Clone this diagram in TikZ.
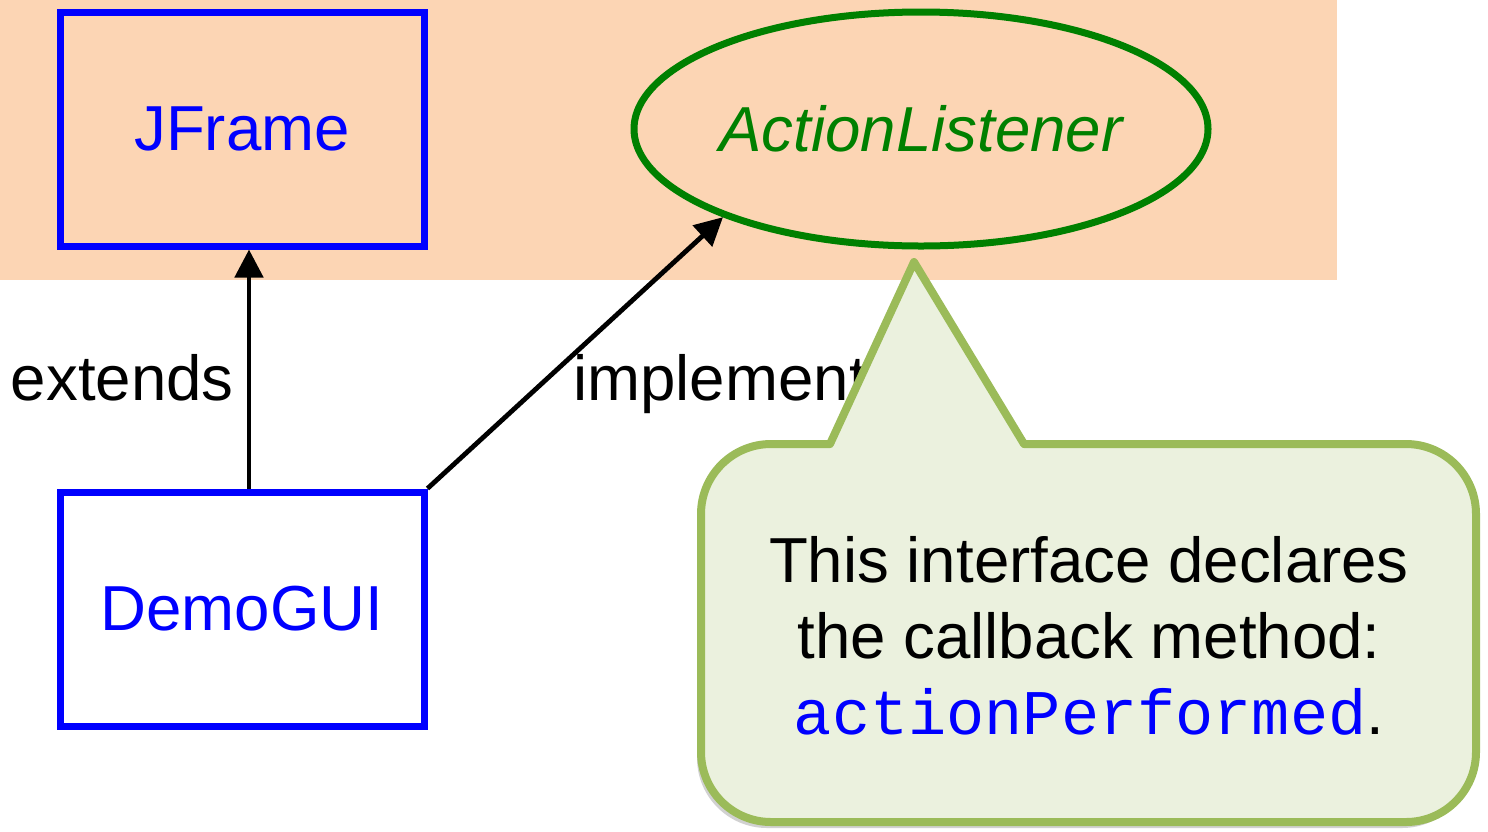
\documentclass[tikz,border=0pt]{standalone}
\usepackage{fontspec}
\setmainfont{Liberation Sans}
\newfontfamily\codefont{Liberation Mono}
\usetikzlibrary{arrows.meta,shapes.geometric}
\definecolor{peach}{RGB}{252,213,180}
\definecolor{ifgreen}{RGB}{0,128,0}
\definecolor{notefill}{RGB}{235,241,222}
\definecolor{notedraw}{RGB}{155,187,89}
\begin{document}
\begin{tikzpicture}[x=0.5pt,y=-0.5pt,
  bigfont/.style={font=\fontsize{31.8}{38}\selectfont},
  classbox/.style={draw=blue, line width=3.5pt, minimum width=182pt, minimum height=117pt, inner sep=0pt, text=blue, bigfont},
  ifnode/.style={ellipse, draw=ifgreen, line width=3.5pt, minimum width=287pt, minimum height=117pt, inner sep=0pt, text=ifgreen, font=\fontsize{31.8}{38}\selectfont\itshape},
  rel/.style={line width=2.4pt, -{Triangle[length=14pt,width=14pt]}},
  lbl/.style={bigfont, inner sep=0pt}]
\useasboundingbox (0,0) rectangle (1488,831);
\fill[peach] (0,0) rectangle (1337,280);
\node[classbox] (jf) at (242,129) {JFrame};
\node[ifnode] (al) at (921,129) {ActionListener};
\node[classbox, fill=white] (dg) at (242,609) {DemoGUI};
\draw[rel] ([xshift=3.5pt]dg.north) -- ([xshift=3.5pt]jf.south);
\draw[rel] (dg.north east) -- (al.204);
\node[lbl, anchor=base east] (ext) at (234,400) {extends};
\node[lbl, anchor=base west] (imp) at (573,400) {implements};
\fill[black, opacity=0.18, shift={(-4,6)}] (830,444) -- (914,262) -- (1024,444) [rounded corners=35pt] -- (1476,444) -- (1476,822) -- (701,822) -- (701,444) [sharp corners] -- cycle;
\draw[fill=notefill, draw=notedraw, line width=4pt, line join=round] (830,444) -- (914,262) -- (1024,444) [rounded corners=35pt] -- (1476,444) -- (1476,822) -- (701,822) -- (701,444) [sharp corners] -- cycle;
\node[bigfont, align=center, inner sep=0pt] (note) at (1089,636) {This interface declares\\the callback method:\\{\codefont\color{blue}actionPerformed}.};
\end{tikzpicture}
\end{document}
